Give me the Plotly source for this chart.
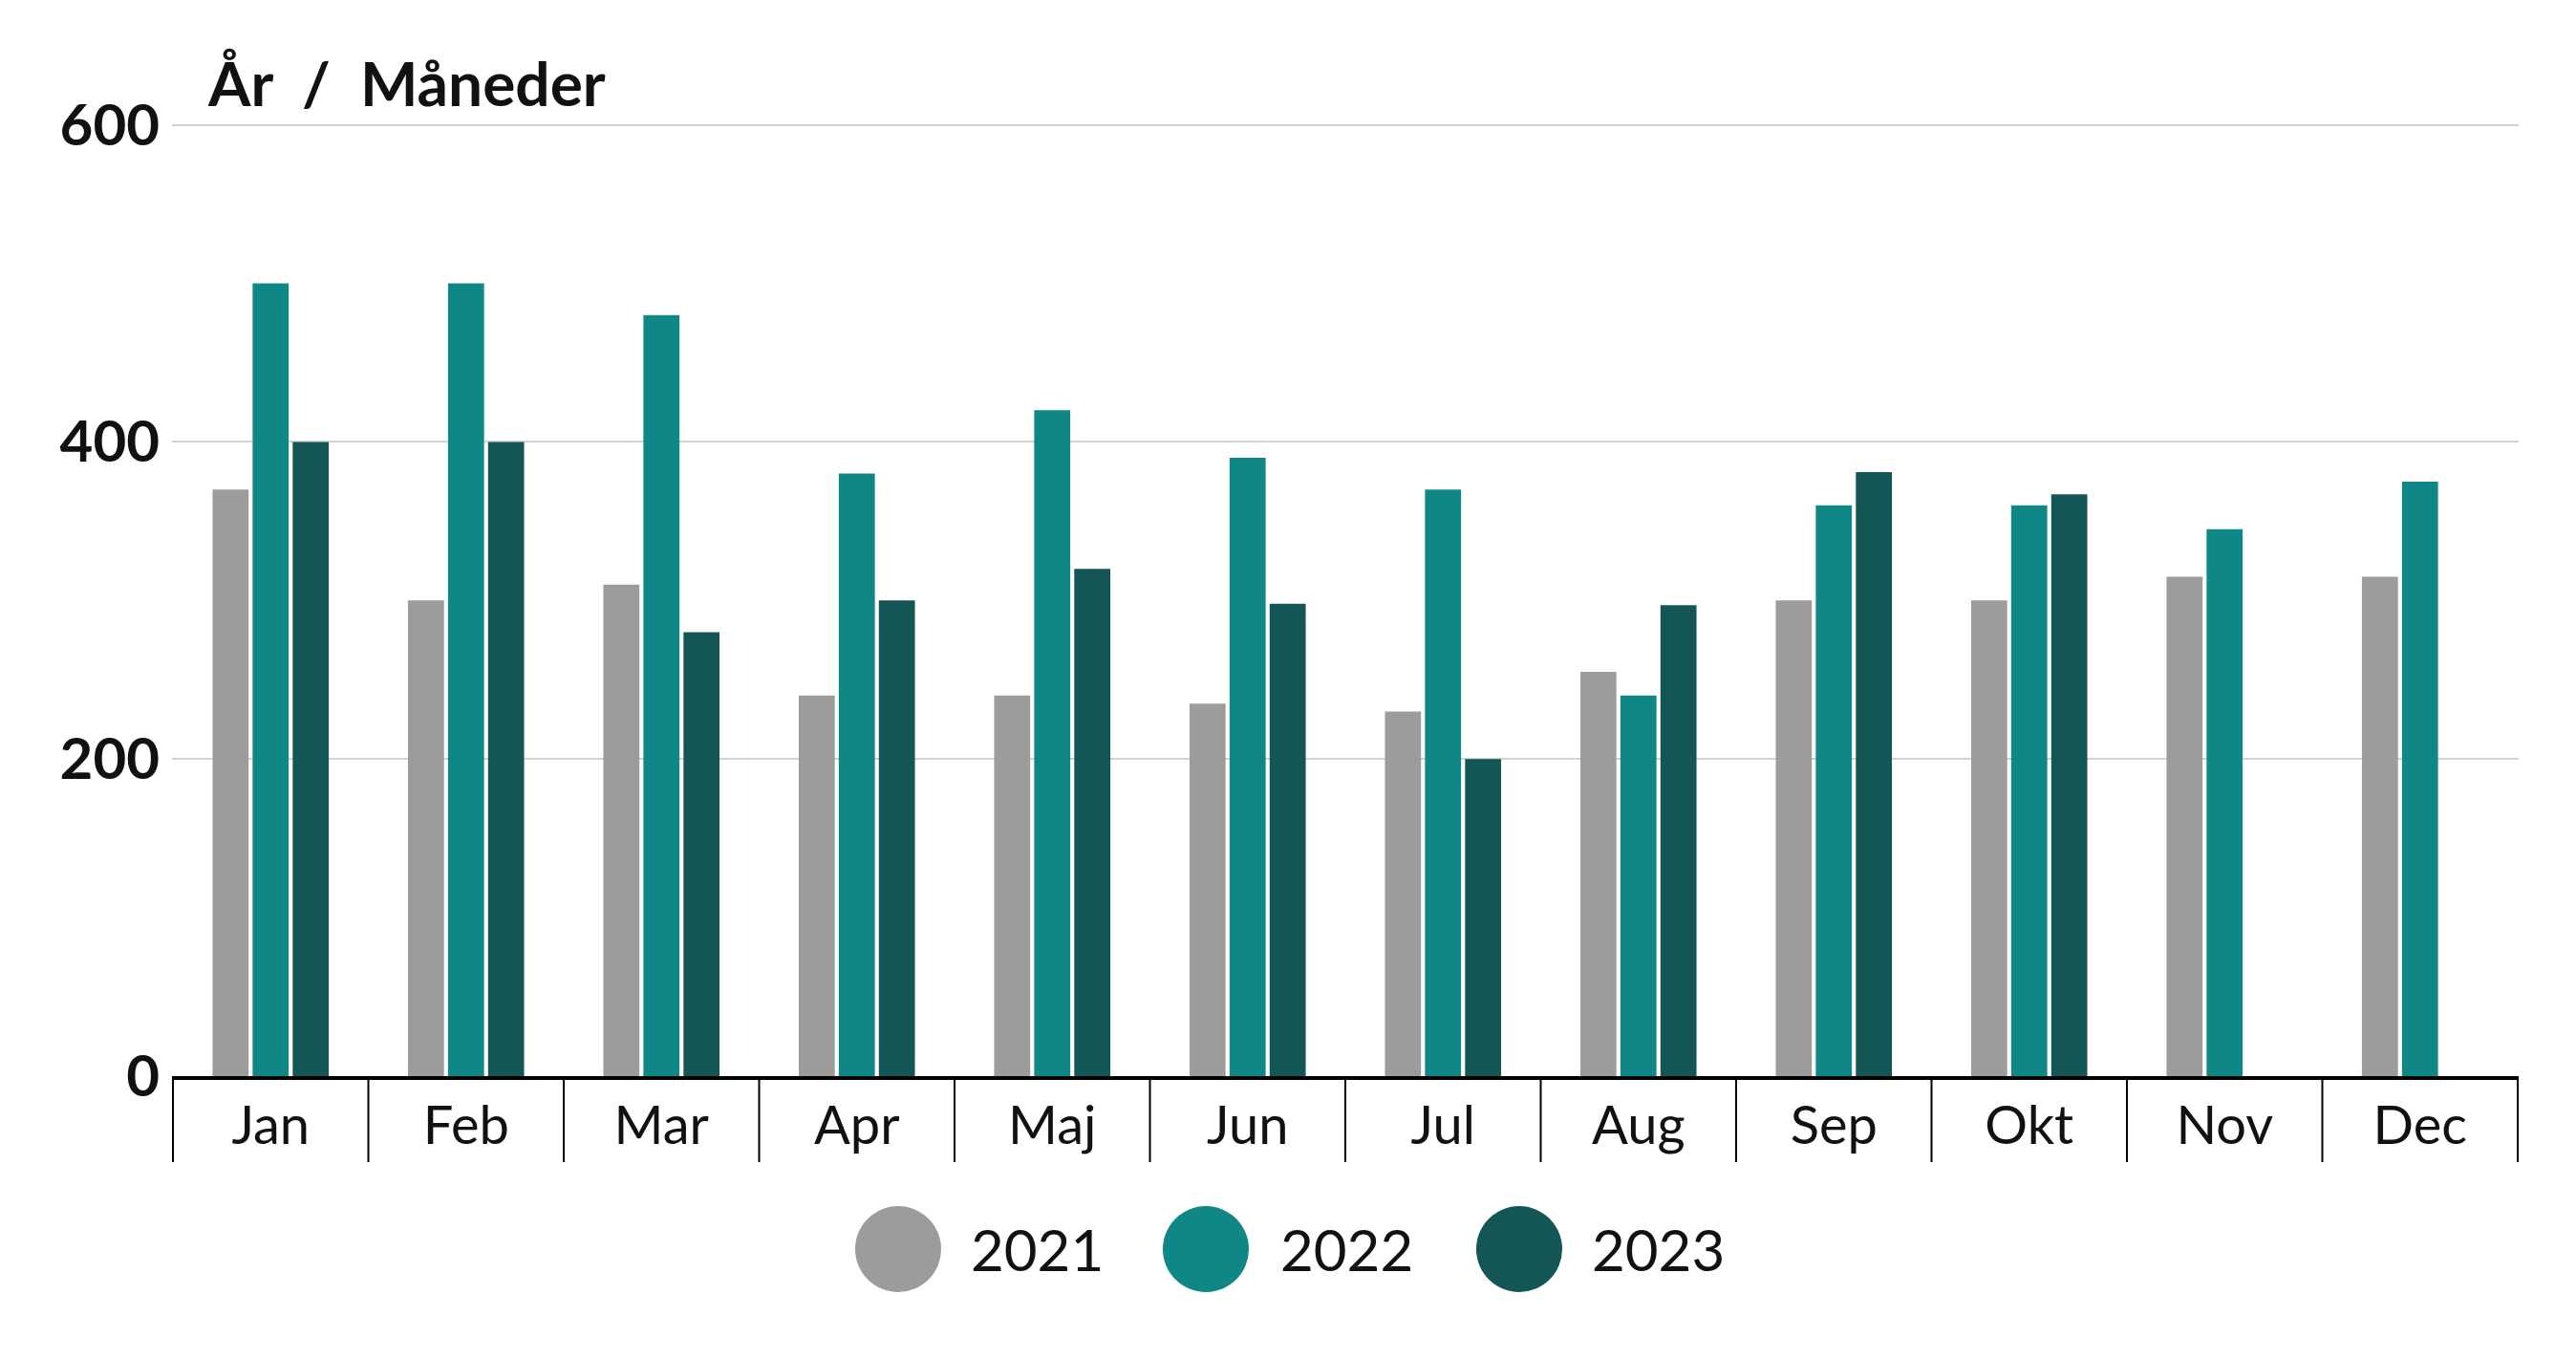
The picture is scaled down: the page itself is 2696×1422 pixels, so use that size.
import plotly.graph_objects as go

months = ["Jan", "Feb", "Mar", "Apr", "Maj", "Jun", "Jul", "Aug", "Sep", "Okt", "Nov", "Dec"]
years = ["2021", "2022", "2023"]
v2021 = [370, 300, 310, 240, 240, 235, 230, 255, 300, 300, 315, 315]
v2022 = [500, 500, 480, 380, 420, 390, 370, 240, 360, 360, 345, 375]
v2023 = [400, 400, 280, 300, 320, 298, 200, 297, 381, 367, None, None]
colors = ["#9C9C9C", "#0F8787", "#145556"]
y_ticks = [0, 200, 400, 600]

W, H = 2696, 1422
L, R, T, B = 180, 60, 124, 296
pw, ph = W - L - R, H - T - B

fig = go.Figure()
for name, vals, col in zip(years, [v2021, v2022, v2023], colors):
    fig.add_trace(go.Bar(x=months, y=vals, name=name, marker_color=col,
                         marker_line_width=0, showlegend=False))

# category separators below the axis
shapes = []
for i in range(len(months) + 1):
    shapes.append(dict(type="line", xref="x", yref="paper", x0=i - 0.5, x1=i - 0.5,
                       y0=0, y1=-90 / ph, line=dict(color="#000000", width=2)))

# custom legend with large circles
legend_cx = [940, 1262, 1590]
legend_tx = [1014, 1338, 1664]
legend_cy = 1307
annotations = []
for name, col, cx, tx in zip(years, colors, legend_cx, legend_tx):
    px = (cx - L) / pw
    py = (H - B - legend_cy) / ph
    shapes.append(dict(type="circle", xref="paper", yref="paper",
                       xsizemode="pixel", ysizemode="pixel",
                       xanchor=px, yanchor=py, x0=-45, x1=45, y0=-45, y1=45,
                       fillcolor=col, line=dict(width=0)))
    annotations.append(dict(text=name, xref="paper", yref="paper",
                            x=(tx - L) / pw, y=py, xanchor="left", yanchor="middle",
                            showarrow=False, font=dict(family="Lato", size=60, color="#111111")))

fig.update_layout(
    width=W, height=H,
    margin=dict(l=L, r=R, t=T, b=B),
    paper_bgcolor="white", plot_bgcolor="white",
    barmode="group", bargap=0.385, bargroupgap=0.1,
    title=dict(text="<b>År  /  Måneder</b>", xref="container", yref="container",
               x=218 / W, xanchor="left", y=1 - 89 / H, yanchor="middle",
               font=dict(family="Lato", size=64, color="#111111")),
    shapes=shapes,
    annotations=annotations,
    font=dict(family="Lato", color="#111111"),
)
fig.update_xaxes(showline=True, linecolor="#000000", linewidth=4,
                 showgrid=False, ticks="",
                 tickfont=dict(family="Lato", size=56, color="#111111"))
fig.update_yaxes(range=[0, 604], tickvals=y_ticks, showgrid=True, gridcolor="#D3D3D3",
                 gridwidth=2, zeroline=False, showline=False,
                 ticklabelstandoff=12,
                 tickfont=dict(family="Lato", size=60, color="#111111", weight=700))

fig.write_html("out.html", config={"displayModeBar": False},
               post_script="document.body.style.margin='0';")
